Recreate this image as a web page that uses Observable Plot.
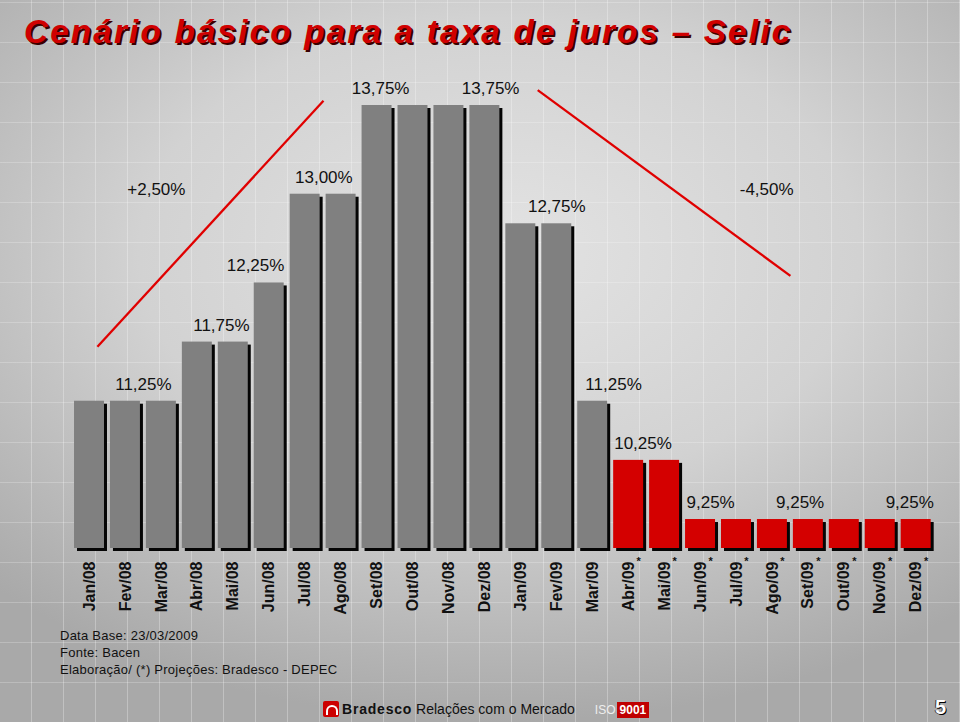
<!DOCTYPE html>
<html>
<head>
<meta charset="utf-8">
<script src="https://cdn.jsdelivr.net/npm/d3@7"></script>
<script src="https://cdn.jsdelivr.net/npm/@observablehq/plot@0.6"></script>
<style>
  html, body { margin: 0; padding: 0; }
  #page {
    position: relative; width: 960px; height: 722px; overflow: hidden;
    font-family: "Liberation Sans", Arial, sans-serif;
    background:
      repeating-linear-gradient(90deg, rgba(255,255,255,0) 0 31px, rgba(255,255,255,0.28) 31px 32px),
      repeating-linear-gradient(0deg, rgba(255,255,255,0) 0 39px, rgba(255,255,255,0.22) 39px 40px),
      radial-gradient(ellipse 75% 65% at 52% 35%, #e3e3e3 0%, #d2d2d2 50%, #a9a9a9 100%);
  }
  #title {
    height: 62px; box-sizing: border-box; padding: 15px 0 0 24px;
    font-size: 33px; font-weight: bold; font-style: italic; color: #d00000;
    letter-spacing: 2.3px; line-height: 34px; white-space: nowrap;
    text-shadow: 2px 2px 0 #3a0000;
  }
  #chart { height: 560px; }
  #chart svg { display: block; overflow: visible; }
  #footer { position: relative; height: 100px; }
  #notes {
    position: absolute; left: 60px; top: 5px;
    font-size: 13px; line-height: 17px; color: #111; letter-spacing: 0.25px;
  }
  #bar {
    position: absolute; left: 323px; top: 78px; height: 18px;
    font-size: 14px; line-height: 18px; color: #111; white-space: nowrap;
  }
  #logo {
    display: inline-block; width: 16px; height: 16px; background: #cc0000;
    vertical-align: -3px; margin-right: 3px; position: relative; border-radius: 2px;
  }
  #logo::after {
    content: ""; position: absolute; left: 3px; top: 4px; width: 8px; height: 8px;
    border: 2px solid #fff; border-bottom: none; border-radius: 6px 6px 0 0;
  }
  #iso { display: inline-block; margin-left: 20px; font-size: 12px; color: #eee; }
  #iso b { background: #c00000; color: #fff; padding: 1px 3px; margin-left: 1px; }
  #pagenum {
    position: absolute; left: 935px; top: 74px; font-size: 20px; font-weight: bold;
    color: #fff; text-shadow: 1px 1px 0 #000, -1px 0 0 #333;
  }
</style>
</head>
<body>
<div id="page">
  <div id="title">Cenário básico para a taxa de juros – Selic</div>
  <div id="chart"></div>
  <div id="footer">
    <div id="notes">Data Base: 23/03/2009<br>Fonte: Bacen<br>Elaboração/ (*) Projeções: Bradesco - DEPEC</div>
    <div id="bar"><span id="logo"></span><b style="letter-spacing:0.8px">Bradesco</b> Relações com o Mercado<span id="iso">ISO<b>9001</b></span></div>
    <div id="pagenum">5</div>
  </div>
</div>
<script>
// ---- data ----
const months = ["Jan/08","Fev/08","Mar/08","Abr/08","Mai/08","Jun/08","Jul/08","Ago/08","Set/08","Out/08","Nov/08","Dez/08",
                "Jan/09","Fev/09","Mar/09","Abr/09","Mai/09","Jun/09","Jul/09","Ago/09","Set/09","Out/09","Nov/09","Dez/09"];
const selic = [11.25, 11.25, 11.25, 11.75, 11.75, 12.25, 13.00, 13.00, 13.75, 13.75, 13.75, 13.75,
               12.75, 12.75, 11.25, 10.25, 10.25, 9.25, 9.25, 9.25, 9.25, 9.25, 9.25, 9.25];
const projected = ["Abr/09","Mai/09","Jun/09","Jul/09","Ago/09","Set/09","Out/09","Nov/09","Dez/09"];
// value labels: anchored between/at month indices
const labelAt = [1.5, 3.67, 4.62, 6.52, 8.1, 11.16, 13.0, 14.58, 15.4, 17.28, 19.77, 22.82];
const labelValue = [11.25, 11.75, 12.25, 13.00, 13.75, 13.75, 12.75, 11.25, 10.25, 9.25, 9.25, 9.25];
// trend annotations (alta / queda)
const trendText = ["+2,50%", "-4,50%"];
const trendTextAt = [1.86, 18.84];
const trendTextValue = [13.04, 13.04];
const trendFromAt = [0.22, 12.47], trendFromValue = [11.71, 13.88];
const trendToAt = [6.51, 19.5], trendToValue = [13.79, 12.31];

// ---- tables built from arrays ----
const rows = months.map((m, i) => ({i, m, v: selic[i], proj: projected.includes(m)}));
const labels = labelAt.map((a, k) => ({at: a, v: labelValue[k]}));
const trends = trendText.map((t, k) => ({t, tx: trendTextAt[k], ty: trendTextValue[k],
  x1: trendFromAt[k], y1: trendFromValue[k], x2: trendToAt[k], y2: trendToValue[k]}));
const fmt = v => v.toFixed(2).replace(".", ",") + "%";
const yMin = 8.76;
const brk = 11.25;                       // the original axis is compressed 2:1 below 11,25%
const squash = v => v < brk ? brk - (brk - v) / 2 : v;
const half = 0.417;

const chart = Plot.plot({
  width: 960, height: 560, margin: 0,
  x: {domain: [0, 23], range: [89, 915.7], axis: null},
  y: {transform: squash, domain: [squash(yMin), 13.75], range: [486, 43], axis: null},
  style: {background: "transparent", fontFamily: "'Liberation Sans', Arial, sans-serif", overflow: "visible"},
  marks: [
    Plot.rect(rows, {x1: d => d.i - half, x2: d => d.i + half, y1: yMin, y2: "v", fill: "#050505", dx: 3, dy: 3}),
    Plot.rect(rows.filter(d => !d.proj), {x1: d => d.i - half, x2: d => d.i + half, y1: yMin, y2: "v", fill: "#808080"}),
    Plot.rect(rows.filter(d => d.proj), {x1: d => d.i - half, x2: d => d.i + half, y1: yMin, y2: "v", fill: "#d40000"}),
    Plot.link(trends, {x1: "x1", y1: "y1", x2: "x2", y2: "y2", stroke: "#e00000", strokeWidth: 2.3}),
    Plot.text(trends, {x: "tx", y: "ty", text: "t", fontSize: 17, fill: "#111"}),
    Plot.text(labels, {x: "at", y: "v", text: d => fmt(d.v), dy: -17, fontSize: 17, fill: "#111"}),
    Plot.text(rows, {x: "i", y: yMin, text: "m", rotate: -90, textAnchor: "end", dy: 13,
      fontSize: 16, fontWeight: "bold", fill: "#111"}),
    Plot.text(rows.filter(d => d.proj), {x: "i", y: yMin, text: () => "*", dx: 10, dy: 13,
      fontSize: 11, fontWeight: "bold", fill: "#111"})
  ]
});
document.getElementById("chart").appendChild(chart);
</script>
</body>
</html>
